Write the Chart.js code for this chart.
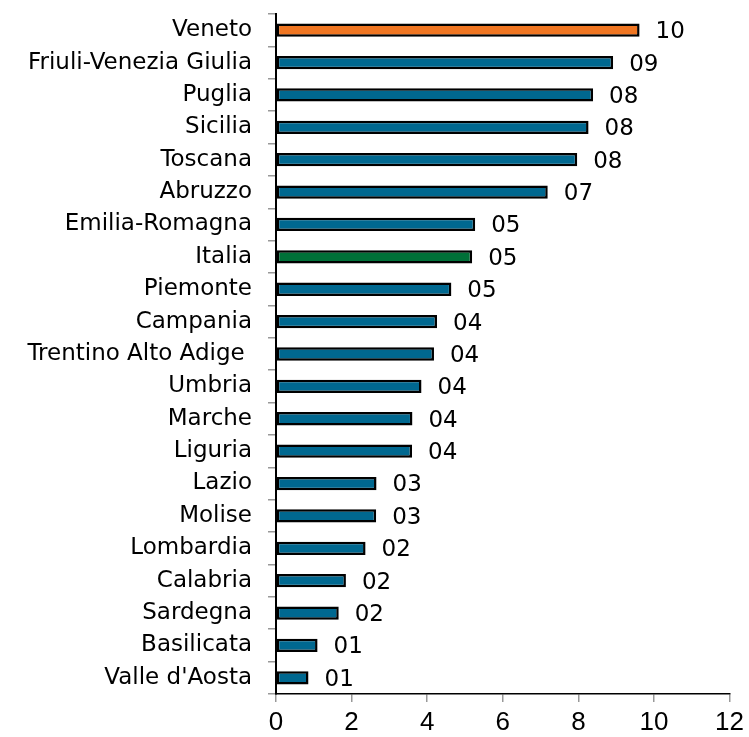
<!DOCTYPE html>
<html>
<head>
<meta charset="utf-8">
<script src="https://cdn.jsdelivr.net/npm/chart.js@4/dist/chart.umd.min.js"></script>
<style>
  html, body { margin: 0; padding: 0; background: #fff; }
  #wrap { width: 749px; height: 737px; position: relative; }
</style>
</head>
<body>
<div id="wrap"><canvas id="chart"></canvas></div>
<script>
(function () {
  "use strict";

  const regions = [
    "Veneto", "Friuli-Venezia Giulia", "Puglia", "Sicilia", "Toscana", "Abruzzo",
    "Emilia-Romagna", "Italia", "Piemonte", "Campania", "Trentino Alto Adige ",
    "Umbria", "Marche", "Liguria", "Lazio", "Molise", "Lombardia", "Calabria",
    "Sardegna", "Basilicata", "Valle d'Aosta"
  ];
  const values = [
    9.62, 8.92, 8.39, 8.27, 7.97, 7.19, 5.27, 5.19, 4.64, 4.26, 4.18,
    3.85, 3.61, 3.60, 2.66, 2.65, 2.37, 1.85, 1.66, 1.10, 0.86
  ];
  const valueLabels = [
    "10", "09", "08", "08", "08", "07", "05", "05", "05", "04", "04",
    "04", "04", "04", "03", "03", "02", "02", "02", "01", "01"
  ];
  const xTicks = [0, 2, 4, 6, 8, 10, 12];

  const BLUE = "#006890";
  const ORANGE = "#f07622";
  const GREEN = "#007038";
  const FONT = "'DejaVu Sans', sans-serif";
  const FONT_NUM = "'Liberation Sans', Arial, sans-serif";

  const barColors = regions.map(function (r) {
    if (r === "Veneto") return ORANGE;
    if (r === "Italia") return GREEN;
    return BLUE;
  });

  // numeric labels to the right of each bar
  const valueLabelPlugin = {
    id: "valueLabels",
    afterDatasetsDraw: function (chart) {
      const ctx = chart.ctx;
      const meta = chart.getDatasetMeta(0);
      ctx.save();
      ctx.font = "23px " + FONT;
      ctx.fillStyle = "#000";
      ctx.textAlign = "left";
      ctx.textBaseline = "middle";
      meta.data.forEach(function (bar, i) {
        ctx.fillText(valueLabels[i], bar.x + 16, bar.y + 2);
      });
      ctx.restore();
    }
  };

  new Chart(document.getElementById("chart"), {
    type: "bar",
    data: {
      labels: regions,
      datasets: [{
        data: values,
        backgroundColor: barColors,
        borderColor: "#000",
        borderWidth: 2.5,
        borderSkipped: false,
        barPercentage: 0.41,
        categoryPercentage: 1
      }]
    },
    options: {
      indexAxis: "y",
      responsive: true,
      maintainAspectRatio: false,
      animation: false,
      layout: { padding: { top: 14, right: 19, left: 0, bottom: 0 } },
      plugins: {
        legend: { display: false },
        tooltip: { enabled: false }
      },
      scales: {
        x: {
          min: 0,
          max: 12,
          afterBuildTicks: function (scale) {
            scale.ticks = xTicks.map(function (v) { return { value: v }; });
          },
          afterFit: function (scale) { scale.height = 43; },
          grid: { drawOnChartArea: false, tickLength: 8, color: "#999", lineWidth: 1.5 },
          border: { color: "#000", width: 1.5 },
          ticks: { color: "#000", font: { family: FONT_NUM, size: 26 }, padding: 5, maxRotation: 0 }
        },
        y: {
          afterFit: function (scale) {
            scale.width = 276;
            scale.paddingTop = 0;
            scale.paddingBottom = 0;
          },
          grid: { drawOnChartArea: false, offset: true, tickLength: 8, color: "#999", lineWidth: 1.5 },
          border: { color: "#000", width: 2 },
          ticks: { color: "#000", font: { family: FONT, size: 23 }, padding: 16, autoSkip: false }
        }
      }
    },
    plugins: [valueLabelPlugin]
  });
})();
</script>
</body>
</html>
